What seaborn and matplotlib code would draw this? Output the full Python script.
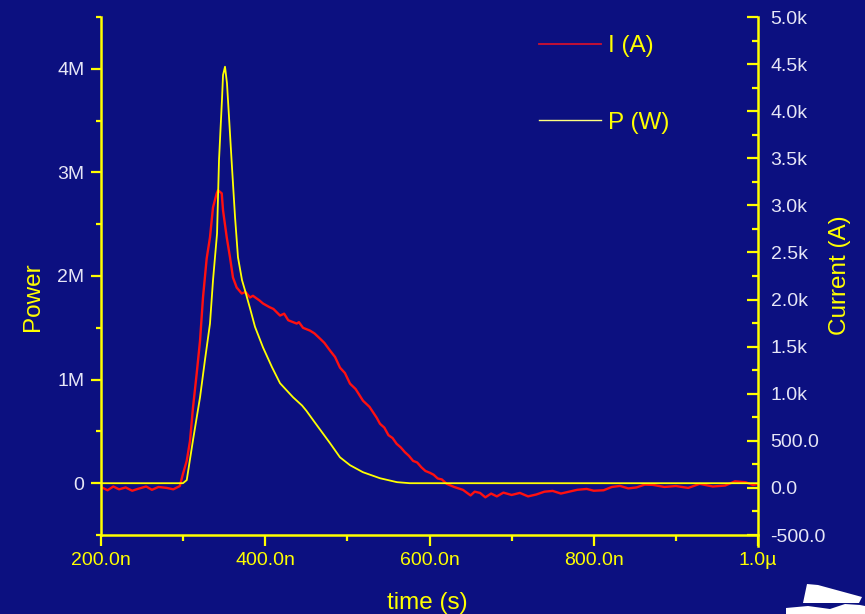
import numpy as np
import pandas as pd
import seaborn as sns
import matplotlib
matplotlib.use("Agg")
import matplotlib.pyplot as plt
from matplotlib.lines import Line2D
from matplotlib.patches import Polygon
from matplotlib.ticker import MultipleLocator, FixedLocator, FixedFormatter

# Power trace P (W), time in ns, power in MW
p_time_ns = [200, 250, 299.8, 304.4, 312, 320.6, 326.6, 332.7, 336.4, 341.3, 343.7,
             347.3, 348.6, 351, 353.4, 355.9, 359.5, 363.2, 366.8, 371.7, 375.4,
             381.4, 387.5, 397.3, 408.2, 418, 433.8, 444.8, 450, 458.2, 478.9, 491,
             503.2, 519, 539.7, 560.4, 576, 650, 800, 1000]
p_power_mw = [0.0, 0.0, 0.0, 0.03, 0.415, 0.83, 1.19, 1.54, 1.96, 2.41, 3.12,
              3.70, 3.94, 4.02, 3.86, 3.53, 3.05, 2.57, 2.18, 1.96, 1.86,
              1.69, 1.51, 1.31, 1.12, 0.965, 0.83, 0.75, 0.70, 0.61, 0.386, 0.25,
              0.174, 0.106, 0.048, 0.01, 0.0, 0.0, 0.0, 0.0]

# Current trace I (A), time in ns
i_time_ns = [200, 208, 215, 222, 230, 238, 245, 255, 262, 270, 280, 288, 296,
             299.8, 304.4, 308.4, 312, 316.5, 320.6, 324.2, 328.7, 332.7, 336.4,
             340.9, 342.5, 347, 348.6, 353.1, 357.1, 360.7, 365.2, 371.3, 376,
             381.4, 385, 389.6, 393, 397.3, 405, 410, 418, 423, 428, 438.3, 441,
             446, 454.5, 460, 466.7, 472, 478.9, 485, 491, 497, 503.2, 510, 519,
             527, 535.7, 539.7, 545, 550, 555, 560, 565, 570, 575, 580, 585, 590,
             595, 600.6, 605, 610, 615, 621, 630, 640.8, 650, 655, 661.5, 668,
             675, 682, 690, 700, 710, 720, 730, 740, 750, 760, 770, 780, 791.4,
             800, 812, 822, 832, 842, 852, 862, 872, 886, 900, 915, 929, 945, 960,
             972, 985, 994, 1000]
i_current_a = [10, -25, 15, -15, 5, -30, -10, 15, -20, 10, 0, -15, 20,
               149, 287, 500, 851, 1213, 1564, 2022, 2437, 2660, 2979,
               3128, 3160, 3128, 2947, 2660, 2447, 2234, 2128, 2064, 2080,
               2022, 2040, 2011, 1990, 1958, 1920, 1900, 1830, 1850, 1780, 1745, 1760,
               1700, 1670, 1640, 1585, 1540, 1458, 1390, 1277, 1220, 1107, 1050, 926,
               860, 745, 681, 640, 560, 530, 468, 430, 380, 340, 287, 270, 220,
               180, 160, 140, 100, 90, 43, 10, -21, -80, -40, -53, -100,
               -60, -90, -50, -75, -53, -90, -70, -40, -32, -60, -40, -20, -11,
               -30, -25, 10, 21, -5, 5, 35, 32, 10, 20, 0, 43, 15, 25,
               70, 60, 30, 43]

x_ticks = [200, 400, 600, 800, 1000]
x_tick_labels = ["200.0n", "400.0n", "600.0n", "800.0n", "1.0µ"]
p_ticks = [0, 1, 2, 3, 4]
p_tick_labels = ["0", "1M", "2M", "3M", "4M"]
i_ticks = [-500, 0, 500, 1000, 1500, 2000, 2500, 3000, 3500, 4000, 4500, 5000]
i_tick_labels = ["-500.0", "0.0", "500.0", "1.0k", "1.5k", "2.0k", "2.5k",
                 "3.0k", "3.5k", "4.0k", "4.5k", "5.0k"]

BG = "#0c1080"
YEL = "#ffff00"
RED = "#ff1010"
TICKTXT = "#e6e6f6"

plt.rcParams["font.family"] = ["Liberation Sans", "DejaVu Sans"]

W, H = 865, 614
fig = plt.figure(figsize=(W / 100, H / 100), dpi=100, facecolor=BG)
ax = fig.add_axes([101 / W, (H - 535) / H, (758 - 101) / W, (535 - 17) / H])
ax.set_facecolor(BG)
ax2 = ax.twinx()

df_p = pd.DataFrame({"t": p_time_ns, "P": p_power_mw})
df_i = pd.DataFrame({"t": i_time_ns, "I": i_current_a})

sns.lineplot(data=df_i, x="t", y="I", ax=ax2, color=RED, lw=1.7,
             estimator=None, sort=False, zorder=2)
sns.lineplot(data=df_p, x="t", y="P", ax=ax, color=YEL, lw=1.3,
             estimator=None, sort=False, zorder=3)
# power drawn above current
ax.set_zorder(ax2.get_zorder() + 1)
ax.patch.set_visible(False)
ax2.patch.set_visible(True)
ax2.patch.set_facecolor(BG)

ax.set_xlim(200, 1000)
ax.set_ylim(-0.5, 4.5)
ax2.set_ylim(-500, 5000)

for a in (ax, ax2):
    for s in a.spines.values():
        s.set_visible(False)

ax.spines["left"].set_visible(True)
ax.spines["bottom"].set_visible(True)
ax2.spines["right"].set_visible(True)
for s in (ax.spines["left"], ax.spines["bottom"], ax2.spines["right"]):
    s.set_color(YEL)
    s.set_linewidth(1.8)
ax2.spines["right"].set_bounds(-620, 5000)

ax.xaxis.set_major_locator(FixedLocator(x_ticks))
ax.xaxis.set_major_formatter(FixedFormatter(x_tick_labels))
ax.xaxis.set_minor_locator(MultipleLocator(100))
ax.yaxis.set_major_locator(FixedLocator(p_ticks))
ax.yaxis.set_major_formatter(FixedFormatter(p_tick_labels))
ax.yaxis.set_minor_locator(MultipleLocator(0.5))
ax2.yaxis.set_major_locator(FixedLocator(i_ticks))
ax2.yaxis.set_major_formatter(FixedFormatter(i_tick_labels))
ax2.yaxis.set_minor_locator(MultipleLocator(250))

ax.tick_params(axis="x", which="major", direction="out", length=8, width=1.6,
               color=YEL, labelcolor=YEL, labelsize=14, pad=4)
ax.tick_params(axis="x", which="minor", direction="out", length=4, width=1.6, color=YEL)
ax.tick_params(axis="y", which="major", direction="out", length=7, width=1.6,
               color=YEL, labelcolor=TICKTXT, labelsize=14, pad=5)
ax.tick_params(axis="y", which="minor", direction="out", length=3.5, width=1.6, color=YEL)
ax2.tick_params(axis="y", which="major", direction="in", length=8, width=1.6,
                color=YEL, labelcolor=TICKTXT, labelsize=14, pad=9)
ax2.tick_params(axis="y", which="minor", direction="in", length=4.5, width=1.6, color=YEL)

ax.set_xlabel("time (s)", color=YEL, fontsize=17.5)
ax.set_ylabel("Power", color=YEL, fontsize=17.5)
ax2.set_ylabel("Current (A)", color=YEL, fontsize=17.5)
ax.xaxis.set_label_coords(0.496, -0.131)
ax.yaxis.set_label_coords(-0.1035, 0.4595)
ax2.yaxis.set_label_coords(1.125, 0.502)
for lbl in (ax.xaxis.label, ax.yaxis.label, ax2.yaxis.label):
    lbl.set_verticalalignment("center")

handles = [Line2D([], [], color="#d01030", lw=1.3),
           Line2D([], [], color="#ffff80", lw=1.0)]
leg = ax.legend(handles, ["I (A)", "P (W)"], loc="upper left",
                bbox_to_anchor=(539 / W, (H - 35) / H), bbox_transform=fig.transFigure,
                frameon=False, fontsize=17.5, handlelength=2.55, handletextpad=0.3,
                labelspacing=2.25, borderpad=0, borderaxespad=0)
for t in leg.get_texts():
    t.set_color(YEL)

# partial white emblem at lower right corner
def px(pts):
    return [(x / W, 1 - y / H) for x, y in pts]

fig.patches.append(Polygon(px([(807, 584), (818, 585), (862, 597), (859, 603), (803, 603)]),
                           closed=True, facecolor="white", edgecolor="none",
                           transform=fig.transFigure))
fig.patches.append(Polygon(px([(786, 608), (808, 606), (830, 609), (845, 604), (860, 605),
                               (865, 606), (865, 614), (786, 614)]),
                           closed=True, facecolor="white", edgecolor="none",
                           transform=fig.transFigure))

fig.savefig("out.png", dpi=100, facecolor=BG)
